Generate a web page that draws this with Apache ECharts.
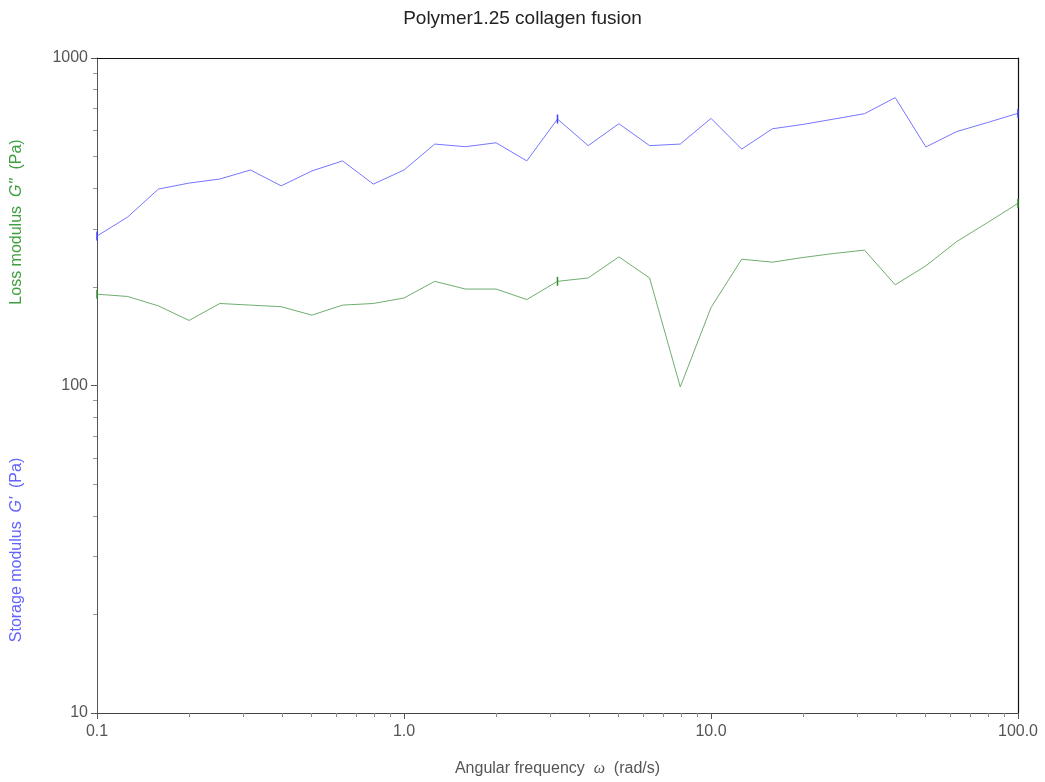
<!DOCTYPE html>
<html>
<head>
<meta charset="utf-8">
<title>Polymer1.25 collagen fusion</title>
<script src="https://cdn.jsdelivr.net/npm/echarts@6/dist/echarts.min.js"></script>
<style>
  html, body { margin: 0; padding: 0; background: #ffffff; }
  #chart { width: 1045px; height: 782px; }
</style>
</head>
<body>
<div id="chart"></div>
<script>
// Angular frequency sweep (rad/s), 10 points per decade
const frequency = [
  0.1, 0.1259, 0.1585, 0.1995, 0.2512, 0.3162, 0.3981, 0.5012, 0.631, 0.7943,
  1, 1.259, 1.585, 1.995, 2.512, 3.162, 3.981, 5.012, 6.31, 7.943,
  10, 12.59, 15.85, 19.95, 25.12, 31.62, 39.81, 50.12, 63.1, 79.43, 100
];
// Storage modulus G' (Pa)
const storageModulus = [
  286, 327, 398, 415, 427, 455, 407, 452, 485, 412,
  455, 546, 536, 551, 485, 651, 540, 630, 540, 546,
  654, 527, 608, 627, 651, 676, 757, 535, 596, 635, 678
];
// Loss modulus G'' (Pa)
const lossModulus = [
  190, 187, 175, 158, 178, 176, 174, 164, 176, 178,
  185, 208, 197, 197, 183, 208, 213, 247, 213, 99,
  173, 243, 238, 246, 253, 259, 203, 232, 275, 314, 360
];
// Points carrying a small vertical marker
const markedPoints = [0, 15, 30];

const xMajor = [0.1, 1, 10, 100];
const xMinor = [0.2, 0.3, 0.4, 0.5, 0.6, 0.7, 0.8, 0.9, 2, 3, 4, 5, 6, 7, 8, 9, 20, 30, 40, 50, 60, 70, 80, 90];
const yMajor = [10, 100, 1000];
const yMinor = [20, 30, 40, 50, 60, 70, 80, 90, 200, 300, 400, 500, 600, 700, 800, 900];

const blue = '#7676ff';
const blueMark = '#3f3fff';
const green = '#6fae6f';
const greenMark = '#2f8f2f';
const sans = 'Liberation Sans, Arial, sans-serif';

function seriesData(values, markColor) {
  return frequency.map((f, i) => {
    const item = { value: [f, values[i]] };
    if (markedPoints.includes(i)) {
      item.symbol = 'rect';
      item.symbolSize = [1.5, 9];
      item.itemStyle = { color: markColor };
    }
    return item;
  });
}

const tickColor = '#555555';
const labelColor = '#555555';

const chart = echarts.init(document.getElementById('chart'), null, { renderer: 'canvas' });
chart.setOption({
  animation: false,
  backgroundColor: '#ffffff',
  title: {
    text: 'Polymer1.25 collagen fusion',
    left: 'center',
    top: 4,
    textStyle: { fontFamily: sans, fontSize: 19, fontWeight: 'normal', color: '#222222' }
  },
  grid: { left: 97, right: 27, top: 58, bottom: 69, show: false },
  xAxis: [
    {
      type: 'log', logBase: 10, min: 0.1, max: 100,
      axisLine: { show: true, onZero: false, lineStyle: { color: '#444444', width: 1 } },
      axisTick: { show: true, length: 6, customValues: xMajor, lineStyle: { color: tickColor } },
      axisLabel: {
        customValues: xMajor, margin: 11,
        color: labelColor, fontSize: 16, fontFamily: sans,
        formatter: v => (v < 1 ? '0.1' : Number(v).toFixed(1))
      },
      splitLine: { show: false },
      name: '{t|Angular frequency  }{w|ω}{t|  (rad/s)}',
      nameLocation: 'middle', nameGap: 48,
      nameTextStyle: {
        rich: {
          t: { color: labelColor, fontSize: 16, fontFamily: sans },
          w: { color: labelColor, fontSize: 16, fontStyle: 'italic', fontFamily: 'Liberation Serif, serif' }
        }
      }
    },
    {
      type: 'log', logBase: 10, min: 0.1, max: 100, position: 'bottom',
      axisLine: { show: false },
      axisTick: { show: true, length: 4, customValues: xMinor, lineStyle: { color: '#888888' } },
      axisLabel: { show: false },
      splitLine: { show: false }
    },
    {
      type: 'log', logBase: 10, min: 0.1, max: 100, position: 'top',
      axisLine: { show: true, lineStyle: { color: '#111111', width: 1.2 } },
      axisTick: { show: false }, axisLabel: { show: false }, splitLine: { show: false }
    }
  ],
  yAxis: [
    {
      type: 'log', logBase: 10, min: 10, max: 1000,
      axisLine: { show: true, onZero: false, lineStyle: { color: '#555555', width: 1 } },
      axisTick: { show: true, length: 6, customValues: yMajor, lineStyle: { color: tickColor } },
      axisLabel: {
        customValues: yMajor, margin: 9,
        color: labelColor, fontSize: 16, fontFamily: sans,
        formatter: v => String(Math.round(v))
      },
      splitLine: { show: false }
    },
    {
      type: 'log', logBase: 10, min: 10, max: 1000, position: 'left',
      axisLine: { show: false },
      axisTick: { show: true, length: 4, customValues: yMinor, lineStyle: { color: '#999999' } },
      axisLabel: { show: false },
      splitLine: { show: false }
    },
    {
      type: 'log', logBase: 10, min: 10, max: 1000, position: 'right',
      axisLine: { show: true, lineStyle: { color: '#111111', width: 1.2 } },
      axisTick: { show: false }, axisLabel: { show: false }, splitLine: { show: false }
    }
  ],
  graphic: [
    {
      type: 'text', x: 17, y: 222, rotation: Math.PI / 2,
      style: {
        text: '{t|Loss modulus  }{g|G\'\'}{t|  (Pa)}',
        align: 'center', verticalAlign: 'middle',
        rich: {
          t: { fill: '#3f9f3f', fontSize: 16, fontFamily: sans },
          g: { fill: '#3f9f3f', fontSize: 16, fontStyle: 'italic', fontFamily: sans }
        }
      }
    },
    {
      type: 'text', x: 17, y: 550, rotation: Math.PI / 2,
      style: {
        text: '{t|Storage modulus  }{g|G\'}{t|  (Pa)}',
        align: 'center', verticalAlign: 'middle',
        rich: {
          t: { fill: '#6262ff', fontSize: 16, fontFamily: sans },
          g: { fill: '#6262ff', fontSize: 16, fontStyle: 'italic', fontFamily: sans }
        }
      }
    }
  ],
  series: [
    {
      name: 'Storage modulus G\'',
      type: 'line',
      xAxisIndex: 0, yAxisIndex: 0,
      data: seriesData(storageModulus, blueMark),
      symbol: 'none',
      showSymbol: true,
      lineStyle: { color: blue, width: 1 },
      itemStyle: { color: blue }
    },
    {
      name: 'Loss modulus G\'\'',
      type: 'line',
      xAxisIndex: 0, yAxisIndex: 0,
      data: seriesData(lossModulus, greenMark),
      symbol: 'none',
      showSymbol: true,
      lineStyle: { color: green, width: 1 },
      itemStyle: { color: green }
    }
  ]
});
</script>
</body>
</html>
